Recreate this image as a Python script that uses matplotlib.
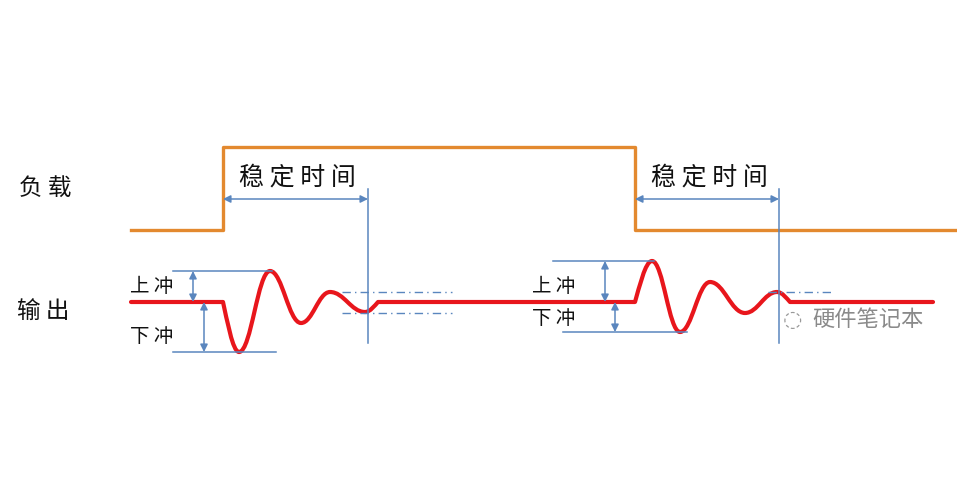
import matplotlib
matplotlib.use("Agg")
import matplotlib.pyplot as plt
from matplotlib.path import Path
from matplotlib.patches import PathPatch

plt.rcParams['font.family'] = ['Noto Sans CJK SC', 'DejaVu Sans']

# load step (orange), in picture units (x = time, y = level, downward)
load_x = [131, 223, 223, 635, 635, 955]
load_y = [230, 230, 147, 147, 230, 230]

# output waveform: flat parts and ringing extrema
out_x = [131, 223, 239, 270, 301, 330, 365, 378, 635, 652, 680, 710, 745, 777, 790, 933]
out_y = [302, 302, 352, 271, 323, 292, 312, 302, 302, 261, 332, 282, 313, 292, 302, 302]

# settling time markers and overshoot / undershoot levels
settle_start = [223, 635]
settle_end = [368, 779]
base = 302
over1, under1 = 271, 352
over2, under2 = 261, 332
band_hi, band_lo = 292, 313

orange = '#E3892F'
red = '#E8161C'
blue = '#5A86BE'
ink = '#111111'

fig = plt.figure(figsize=(9.57, 4.93), dpi=100)
ax = fig.add_axes([0, 0, 1, 1])
ax.set_xlim(0, 957)
ax.set_ylim(493, 0)
ax.axis('off')

# load
ax.plot(load_x, load_y, color=orange, lw=2.4)


def is_corner(i):
    # point where a flat stretch meets the ringing
    if i == 0 or i == len(out_x) - 1:
        return False
    return (out_y[i - 1] == out_y[i]) != (out_y[i + 1] == out_y[i])


# output, smooth between extrema, kinked where ringing starts/stops
verts = [(out_x[0], out_y[0])]
codes = [Path.MOVETO]
for i in range(1, len(out_x)):
    x0, y0, x1, y1 = out_x[i - 1], out_y[i - 1], out_x[i], out_y[i]
    dx = (x1 - x0) * 0.4
    if is_corner(i - 1) and y0 != y1:
        c1 = (x0 + (x1 - x0) * 0.25, y0 + (y1 - y0) * 0.35)
    else:
        c1 = (x0 + dx, y0)
    if is_corner(i) and y0 != y1:
        c2 = (x1 - (x1 - x0) * 0.25, y1 - (y1 - y0) * 0.35)
    else:
        c2 = (x1 - dx, y1)
    verts += [c1, c2, (x1, y1)]
    codes += [Path.CURVE4] * 3
ax.add_patch(PathPatch(Path(verts, codes), fill=False, edgecolor=red, lw=3.0,
                       capstyle='round', joinstyle='round'))

arrow = dict(arrowstyle='<|-|>', color=blue, lw=1.1, mutation_scale=11,
             shrinkA=0, shrinkB=0)

# settling time
for xs, xe in zip(settle_start, settle_end):
    ax.plot([xe, xe], [189, 343], color=blue, lw=1.1)
    ax.annotate('', xy=(xs, 199), xytext=(xe, 199), arrowprops=arrow)
    ax.text((xs + xe) / 2 + 2, 178, '稳 定 时 间', fontsize=18,
            ha='center', va='center', color=ink, fontweight='medium')

# tolerance band (dash-dot)
dashdot = (0, (6, 3, 1, 3))
ax.plot([342, 452], [band_hi, band_hi], color=blue, lw=1.0, ls=dashdot)
ax.plot([342, 452], [band_lo, band_lo], color=blue, lw=1.0, ls=dashdot)
ax.plot([768, 832], [band_hi, band_hi], color=blue, lw=1.0, ls=dashdot)

# overshoot / undershoot, first event
ax.plot([173, 272], [over1, over1], color=blue, lw=1.1)
ax.plot([173, 276], [under1, under1], color=blue, lw=1.1)
ax.annotate('', xy=(193, over1), xytext=(193, base), arrowprops=arrow)
ax.annotate('', xy=(204, base), xytext=(204, under1), arrowprops=arrow)
ax.text(152, 287, '上 冲', fontsize=14, ha='center', va='center', color=ink, fontweight='medium')
ax.text(152, 337, '下 冲', fontsize=14, ha='center', va='center', color=ink, fontweight='medium')

# overshoot / undershoot, second event
ax.plot([553, 654], [over2, over2], color=blue, lw=1.1)
ax.plot([563, 687], [under2, under2], color=blue, lw=1.1)
ax.annotate('', xy=(605, over2), xytext=(605, base), arrowprops=arrow)
ax.annotate('', xy=(615, base), xytext=(615, under2), arrowprops=arrow)
ax.text(554, 287, '上 冲', fontsize=14, ha='center', va='center', color=ink, fontweight='medium')
ax.text(554, 318, '下 冲', fontsize=14, ha='center', va='center', color=ink, fontweight='medium')

# row labels
ax.text(45, 188, '负 载', fontsize=17, ha='center', va='center', color=ink, fontweight='medium')
ax.text(43, 311, '输 出', fontsize=17, ha='center', va='center', color=ink, fontweight='medium')

# watermark
ax.text(792, 320, '\u25cc', fontsize=16, ha='center', va='center', color='#999999',
        family=['DejaVu Sans'])
ax.text(868, 320, '硬件笔记本', fontsize=16, ha='center', va='center', color='#8a8a8a')

fig.savefig('out.png', dpi=100, facecolor='white')
